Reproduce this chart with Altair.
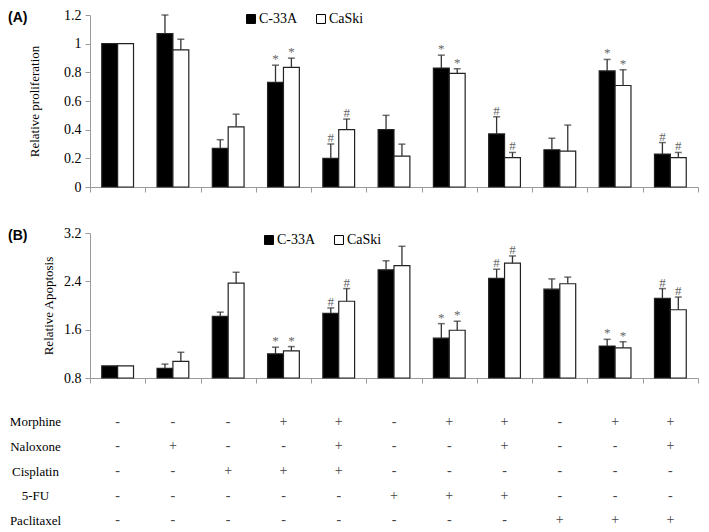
import altair as alt
import pandas as pd

groups = list(range(1, 12))
series_names = ["C-33A", "CaSki"]

# (A) Relative proliferation
prolif_c33a = [1.00, 1.07, 0.27, 0.73, 0.20, 0.40, 0.83, 0.37, 0.26, 0.81, 0.23]
prolif_c33a_err = [0.00, 0.13, 0.06, 0.12, 0.10, 0.10, 0.09, 0.12, 0.08, 0.08, 0.08]
prolif_caski = [1.00, 0.956, 0.42, 0.834, 0.40, 0.216, 0.793, 0.205, 0.25, 0.708, 0.205]
prolif_caski_err = [0.00, 0.075, 0.088, 0.065, 0.074, 0.083, 0.032, 0.036, 0.182, 0.11, 0.036]
prolif_sig_c33a = ["", "", "", "*", "#", "", "*", "#", "", "*", "#"]
prolif_sig_caski = ["", "", "", "*", "#", "", "*", "#", "", "*", "#"]

# (B) Relative apoptosis
apop_c33a = [1.00, 0.96, 1.82, 1.20, 1.87, 2.59, 1.46, 2.45, 2.27, 1.33, 2.12]
apop_c33a_err = [0.00, 0.07, 0.07, 0.11, 0.09, 0.15, 0.24, 0.15, 0.17, 0.11, 0.16]
apop_caski = [1.00, 1.076, 2.37, 1.25, 2.07, 2.66, 1.59, 2.70, 2.36, 1.30, 1.93]
apop_caski_err = [0.00, 0.15, 0.18, 0.07, 0.21, 0.32, 0.15, 0.12, 0.11, 0.10, 0.21]
apop_sig_c33a = ["", "", "", "*", "#", "", "*", "#", "", "*", "#"]
apop_sig_caski = ["", "", "", "*", "#", "", "*", "#", "", "*", "#"]

prolif_ticks = [0, 0.2, 0.4, 0.6, 0.8, 1.0, 1.2]
apop_ticks = [0.8, 1.6, 2.4, 3.2]

# Treatment table
drugs = ["Morphine", "Naloxone", "Cisplatin", "5-FU", "Paclitaxel"]
morphine = ["-", "-", "-", "+", "+", "-", "+", "+", "-", "+", "+"]
naloxone = ["-", "+", "-", "-", "+", "-", "-", "+", "-", "-", "+"]
cisplatin = ["-", "-", "+", "+", "+", "-", "-", "-", "-", "-", "-"]
fu5 = ["-", "-", "-", "-", "-", "+", "+", "+", "-", "-", "-"]
paclitaxel = ["-", "-", "-", "-", "-", "-", "-", "-", "+", "+", "+"]

SERIF = "Liberation Serif, Times New Roman, serif"
SANS = "Liberation Sans, Arial, sans-serif"
PLOT_W = 608
AXIS_GRAY = "#9a9a9a"


def panel_df(va, ea, vb, eb, sa, sb):
    rows = []
    for i, g in enumerate(groups):
        for s, v, e, m in ((series_names[0], va[i], ea[i], sa[i]),
                           (series_names[1], vb[i], eb[i], sb[i])):
            rows.append(dict(g=g, series=s, value=v, top=round(v + e, 4), err=e, sig=m))
    return pd.DataFrame(rows)


def x_enc():
    return alt.X("g:O", scale=alt.Scale(paddingInner=0, paddingOuter=0),
                 axis=alt.Axis(labels=False, title=None, tickBand="extent", tickSize=5,
                               domainColor=AXIS_GRAY, tickColor=AXIS_GRAY))


def xo_enc():
    return alt.XOffset("series:N", sort=series_names,
                       scale=alt.Scale(paddingInner=0, paddingOuter=0.74))


def panel(df, domain, ticks, fmt, ytitle, ytp, label, height, legx, legy, legpad):
    base = alt.Chart(df)
    y_axis = alt.Axis(values=ticks, format=fmt, title=ytitle, titlePadding=ytp,
                      tickSize=5, labelPadding=4, domainColor=AXIS_GRAY, tickColor=AXIS_GRAY)
    y_scale = alt.Scale(domain=domain, zero=False, nice=False)
    bars = base.mark_bar(stroke="#222222", strokeWidth=1.2).encode(
        x=x_enc(), xOffset=xo_enc(),
        y=alt.Y("value:Q", scale=y_scale, axis=y_axis),
        y2=alt.datum(domain[0]),
        fill=alt.Fill("series:N", sort=series_names,
                      scale=alt.Scale(domain=series_names, range=["#000000", "#ffffff"]),
                      legend=alt.Legend(orient="none", legendX=legx, legendY=legy,
                                        direction="horizontal", title=None,
                                        symbolType="square", symbolSize=80,
                                        symbolStrokeColor="#000000", symbolStrokeWidth=1,
                                        labelFont=SERIF, labelFontSize=14, labelColor="black",
                                        columnPadding=16, labelOffset=1, padding=legpad)),
    )
    errs = base.transform_filter("datum.err > 0")
    rules = errs.mark_rule(color="#333333", strokeWidth=1.3).encode(
        x=x_enc(), xOffset=xo_enc(),
        y=alt.Y("value:Q", scale=y_scale, axis=y_axis), y2="top:Q")
    caps = errs.mark_tick(color="#333333", size=7, thickness=1.5).encode(
        x=x_enc(), xOffset=xo_enc(), y=alt.Y("top:Q", scale=y_scale, axis=y_axis))
    sig = base.transform_filter("datum.sig != ''").mark_text(
        font=SERIF, fontSize=13, color="#666666", baseline="alphabetic", dy=-2).encode(
        x=x_enc(), xOffset=xo_enc(), y=alt.Y("top:Q", scale=y_scale, axis=y_axis),
        text="sig:N")
    panel_label = alt.Chart(pd.DataFrame({"t": [label]})).mark_text(
        font=SANS, fontSize=14, fontWeight="bold", color="black",
        align="left", baseline="middle").encode(
        x=alt.value(-82), y=alt.value(3), text="t:N")
    return alt.layer(bars, rules, caps, sig, panel_label).properties(
        width=PLOT_W, height=height)


dfA = panel_df(prolif_c33a, prolif_c33a_err, prolif_caski, prolif_caski_err,
               prolif_sig_c33a, prolif_sig_caski)
dfB = panel_df(apop_c33a, apop_c33a_err, apop_caski, apop_caski_err,
               apop_sig_c33a, apop_sig_caski)

top = panel(dfA, [0, 1.2], prolif_ticks, "~g", "Relative  proliferation", 22, "(A)", 172,
            154, -3, 0)
bottom = panel(dfB, [0.8, 3.2], apop_ticks, ".1f", "Relative  Apoptosis", 8, "(B)", 145,
               162, -10, 10)

signs = [morphine, naloxone, cisplatin, fu5, paclitaxel]
trows = []
for d, row in zip(drugs, signs):
    for g, s in zip(groups, row):
        trows.append(dict(drug=d, g=g, sign=s))
tdf = pd.DataFrame(trows)

table = alt.Chart(tdf).mark_text(font=SERIF, fontSize=14, color="#444444").encode(
    x=alt.X("g:O", scale=alt.Scale(paddingInner=0, paddingOuter=0), axis=None),
    y=alt.Y("drug:N", sort=drugs, scale=alt.Scale(type="point", padding=0.08),
            axis=alt.Axis(title=None, domain=False, ticks=False, labelAlign="center",
                          labelPadding=55, labelFontSize=13, labelColor="black",
                          labelFont=SERIF)),
    text="sign:N",
).properties(width=PLOT_W, height=102)

chart = alt.vconcat(top, bottom, table, spacing=29).resolve_legend(
    fill="independent"
).resolve_scale(fill="independent").properties(
    padding={"left": 0, "top": 0, "right": 0, "bottom": 0}
).configure_view(stroke=None).configure_axis(
    grid=False, labelFont=SERIF, labelFontSize=14, labelColor="black",
    titleFont=SERIF, titleFontSize=13, titleFontWeight="normal", titleColor="black"
)

chart.save("out.html", embed_options={"renderer": "svg", "actions": False})
